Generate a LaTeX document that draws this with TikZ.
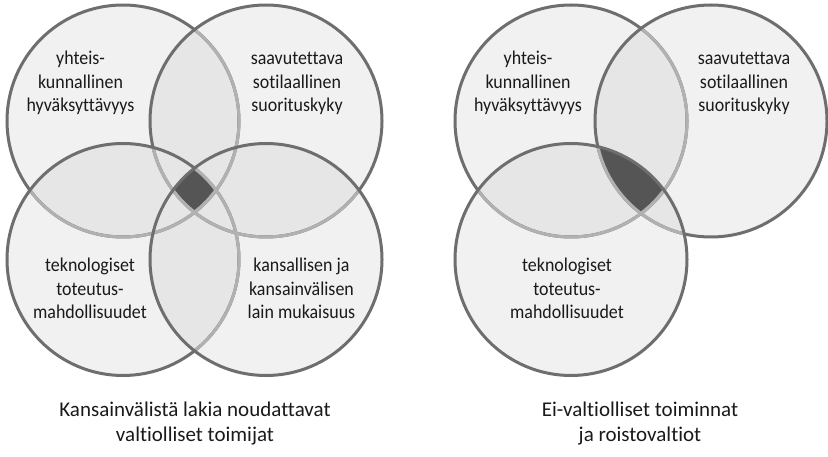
\documentclass[tikz,border=0pt]{standalone}
\usepackage{fontspec}
\setmainfont{Carlito}[Ligatures=NoCommon]
\newfontfamily\labelfont{Carlito}[FakeStretch=0.92,Ligatures=NoCommon]
\definecolor{fillone}{HTML}{F1F1F1}
\definecolor{filltwo}{HTML}{E6E6E6}
\definecolor{fillall}{HTML}{555555}
\definecolor{strokedark}{HTML}{6E6E6E}
\definecolor{strokelight}{HTML}{B1B1B1}
\definecolor{txt}{HTML}{1A1A1A}
\tikzset{
  ring/.style={line width=3pt, draw=strokedark},
  ringlight/.style={line width=3pt, draw=strokelight},
  label/.style={align=center, text=txt, font=\labelfont\fontsize{19.5}{23.5}\selectfont, inner sep=0pt},
  caption/.style={align=center, text=txt, font=\fontsize{21}{24.5}\selectfont, inner sep=0pt},
}
\def\R{116}
\begin{document}
\begin{tikzpicture}[x=1pt,y=-1pt]
\useasboundingbox (0,0) rectangle (828,457);
\fill[white] (0,0) rectangle (828,457);
% centres
\coordinate (A) at (123,121);
\coordinate (B) at (266,121);
\coordinate (C) at (123,259.5);
\coordinate (D) at (266,259.5);
\coordinate (E) at (571,121);
\coordinate (F) at (711,121);
\coordinate (G) at (571,259.5);
% ---------- left diagram fills
\foreach \c in {A,B,C,D} \fill[fillone] (\c) circle (\R);
\begin{scope}\clip (A) circle (\R);
  \fill[filltwo] (B) circle (\R); \fill[filltwo] (C) circle (\R); \fill[filltwo] (D) circle (\R);
\end{scope}
\begin{scope}\clip (B) circle (\R);
  \fill[filltwo] (C) circle (\R); \fill[filltwo] (D) circle (\R);
\end{scope}
\begin{scope}\clip (C) circle (\R);
  \fill[filltwo] (D) circle (\R);
\end{scope}
\begin{scope}\clip (A) circle (\R); \clip (B) circle (\R); \clip (C) circle (\R);
  \fill[fillall] (D) circle (\R);
\end{scope}
% ---------- left diagram strokes
\draw[ring] (A) circle (\R);
\begin{scope}\clip (B) circle (\R); \draw[ringlight] (A) circle (\R); \end{scope}
\draw[ring] (B) circle (\R);
\begin{scope}\clip (C) circle (\R); \draw[ringlight] (A) circle (\R); \draw[ringlight] (B) circle (\R); \end{scope}
\draw[ring] (C) circle (\R);
\begin{scope}\clip (D) circle (\R); \draw[ringlight] (A) circle (\R); \draw[ringlight] (B) circle (\R); \draw[ringlight] (C) circle (\R); \end{scope}
\draw[ring] (D) circle (\R);
% ---------- right diagram fills
\foreach \c in {E,F,G} \fill[fillone] (\c) circle (\R);
\begin{scope}\clip (E) circle (\R);
  \fill[filltwo] (F) circle (\R); \fill[filltwo] (G) circle (\R);
\end{scope}
\begin{scope}\clip (F) circle (\R);
  \fill[filltwo] (G) circle (\R);
\end{scope}
\begin{scope}\clip (E) circle (\R); \clip (F) circle (\R);
  \fill[fillall] (G) circle (\R);
\end{scope}
% ---------- right diagram strokes
\draw[ring] (E) circle (\R);
\begin{scope}\clip (F) circle (\R); \draw[ringlight] (E) circle (\R); \end{scope}
\draw[ring] (F) circle (\R);
\begin{scope}\clip (G) circle (\R); \draw[ringlight] (E) circle (\R); \draw[ringlight] (F) circle (\R); \end{scope}
\draw[ring] (G) circle (\R);
% ---------- labels
\node[label] (lA) at (80.5,83.8) {\strut yhteis-\\\strut kunnallinen\\\strut hyväksyttävyys};
\node[label] (lB) at (297,83.8) {\strut saavutettava\\\strut sotilaallinen\\\strut suorituskyky};
\node[label] (lC) at (90,290.6) {\strut teknologiset\\\strut toteutus-\\\strut mahdollisuudet};
\node[label] (lD) at (301.5,290.6) {\strut kansallisen ja\\\strut kansainvälisen\\\strut lain mukaisuus};
\node[label] (lE) at (528,83.8) {\strut yhteis-\\\strut kunnallinen\\\strut hyväksyttävyys};
\node[label] (lF) at (744,83.8) {\strut saavutettava\\\strut sotilaallinen\\\strut suorituskyky};
\node[label] (lG) at (567,290.6) {\strut teknologiset\\\strut toteutus-\\\strut mahdollisuudet};
\node[caption] (cap1) at (195,424) {\strut Kansainvälistä lakia noudattavat\\\strut valtiolliset toimijat};
\node[caption] (cap2) at (640,424) {\strut Ei-valtiolliset toiminnat\\\strut ja roistovaltiot};
\end{tikzpicture}
\end{document}
